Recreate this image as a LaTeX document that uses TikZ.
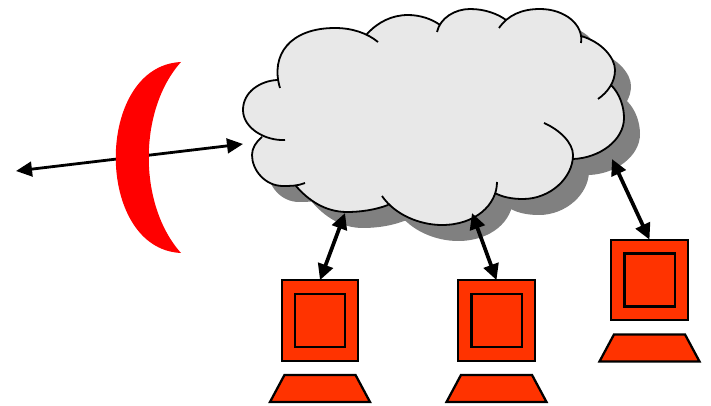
\documentclass[tikz,border=0pt]{standalone}
\usetikzlibrary{arrows.meta, shapes.geometric}
\definecolor{cloudgrey}{HTML}{E8E8E8}
\definecolor{shadowgrey}{HTML}{808080}
\definecolor{cpc}{HTML}{FF3300}
\definecolor{cred}{HTML}{FF0000}
\tikzset{
  monitor/.style={draw, fill=cpc, line width=1.7pt, outer sep=0pt, inner sep=0pt, minimum width=#1},
  base/.style={draw, fill=cpc, line width=1.7pt, shape=trapezium, trapezium left angle=76, trapezium right angle=76, trapezium stretches=true, minimum width=75pt, minimum height=20.25pt, inner sep=0pt},
  link/.style={{Triangle[length=12pt,width=11.5pt]}-{Triangle[length=12pt,width=11.5pt]}, line width=2.8pt},
  uplink/.style={{Triangle[length=12pt,width=11pt]}-{Triangle[length=12pt,width=11pt]}, line width=2.1pt},
}
% one arc per bulge, each one runs on a bit past the cusp
\def\cloudlobes{
  (285,140) .. controls (265,141) and (243,128) .. (243,110) .. controls (243,92) and (260,81) .. (277,80)
  (280,88) .. controls (270,55) and (290,28) .. (335,28) .. controls (352,28) and (367,33) .. (378,42)
  (367,34) .. controls (378,22) and (392,15) .. (408,15) .. controls (420,15) and (432,19) .. (440,25)
  (437,32) .. controls (440,18) and (455,9) .. (470,9) .. controls (485,9) and (498,14) .. (506,20)
  (499,28) .. controls (508,15) and (522,9) .. (540,9) .. controls (565,9) and (584,25) .. (581,43)
  (581,36) .. controls (602,42) and (615,58) .. (615,70) .. controls (615,82) and (608,92) .. (598,99)
  (611,85) .. controls (620,94) and (624,107) .. (624,118) .. controls (624,140) and (600,158) .. (573,159)
  (544,123) .. controls (560,130) and (573,143) .. (573,155) .. controls (573,178) and (550,199) .. (523,199) .. controls (512,199) and (502,197) .. (495,193)
  (497,182) .. controls (497,205) and (475,225) .. (442,225) .. controls (420,225) and (395,215) .. (382,196)
  (388,205) .. controls (375,210) and (360,212) .. (347,212) .. controls (325,212) and (308,200) .. (296,186)
  (305,183) .. controls (298,186) and (290,186) .. (283,186) .. controls (265,186) and (252,170) .. (252,155) .. controls (252,148) and (256,142) .. (262,137)
}
\def\cloudcore{(277,80) -- (367,34) -- (440,25) -- (506,20) -- (581,36) -- (611,85) -- (573,159) -- (495,193) -- (388,205) -- (296,186) -- (262,137) -- cycle}
\begin{document}
\begin{tikzpicture}[x=0.75pt, y=-0.75pt]
  \useasboundingbox (0,0) rectangle (711,406);
  % cloud with its shadow
  \fill[shadowgrey, shift={(16,16)}] \cloudlobes \cloudcore;
  \fill[cloudgrey] \cloudlobes \cloudcore;
  \draw[line width=1.35pt] \cloudlobes;
  % the computers
  \foreach \n/\x/\y in {pcA/320/320.5, pcB/496.5/320.5, pcC/649.5/280} {
    \node[monitor=57.5pt, minimum height=60.5pt] (\n) at (\x,\y) {};
    \node[monitor=37.7pt, minimum height=39.8pt] (\n screen) at (\x,\y) {};
    \node[base] (\n base) at (\x,\y+68) {\phantom{x}};
  }
  % links
  \coordinate (outer) at (16,171);
  \coordinate (gate) at (243,144);
  \coordinate (cloudA) at (345,213);
  \coordinate (cloudB) at (472,213);
  \coordinate (cloudC) at (612,159);
  \draw[uplink] (outer) -- (gate);
  \foreach \c/\n in {cloudA/pcA, cloudB/pcB, cloudC/pcC} { \draw[link] (\c) -- (\n.north); }
  % firewall
  \fill[cred] (181,62) .. controls (94,66) and (94,249) .. (181,253) .. controls (138,205) and (138,110) .. (181,62) -- cycle;
\end{tikzpicture}
\end{document}
